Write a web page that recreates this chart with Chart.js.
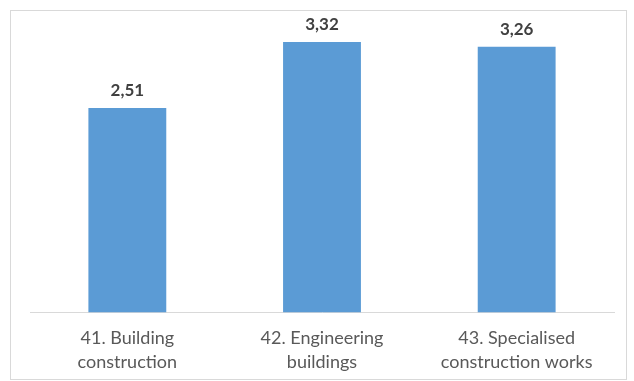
<!DOCTYPE html>
<html><head><meta charset="utf-8">
<script src="https://cdn.jsdelivr.net/npm/chart.js@4/dist/chart.umd.min.js"></script>
<style>html,body{margin:0;padding:0;background:#fff;}#wrap{width:634px;height:381px;position:relative;}</style>
</head><body><div id="wrap"><canvas id="c" width="634" height="381"></canvas></div>
<script>
const categories = [["41. Building","construction"],["42. Engineering","buildings"],["43. Specialised","construction works"]];
const values = [2.51, 3.32, 3.26];
const valueLabels = ["2,51","3,32","3,26"];

const frame = {
  id:'frame',
  beforeDraw(chart){
    const ctx = chart.ctx; ctx.save();
    ctx.strokeStyle='#d9d9d9'; ctx.lineWidth=1;
    ctx.strokeRect(10.5,10.5,616,369);
    ctx.restore();
  }
};
const dataLabels = {
  id:'dataLabels',
  afterDatasetsDraw(chart){
    const ctx = chart.ctx; ctx.save();
    ctx.font='bold 17px Lato'; ctx.fillStyle='#404040';
    ctx.textAlign='center'; ctx.textBaseline='alphabetic';
    chart.getDatasetMeta(0).data.forEach((bar,i)=>{
      ctx.fillText(valueLabels[i], bar.x, bar.y-12);
    });
    ctx.restore();
  }
};
new Chart(document.getElementById('c'),{
  type:'bar',
  data:{labels:categories,datasets:[{data:values,backgroundColor:'#5b9bd5',categoryPercentage:1,barPercentage:0.4}]},
  options:{
    responsive:false,animation:false,
    layout:{padding:{left:30,right:20,top:11,bottom:1.5}},
    plugins:{legend:{display:false},tooltip:{enabled:false}},
    scales:{
      y:{display:false,min:0,max:3.7},
      x:{grid:{display:false},border:{color:'#d9d9d9'},
         ticks:{color:'#595959',font:{family:'Lato',size:18,lineHeight:1.33},padding:5.5}}
    }
  },
  plugins:[frame,dataLabels]
});
</script></body></html>
